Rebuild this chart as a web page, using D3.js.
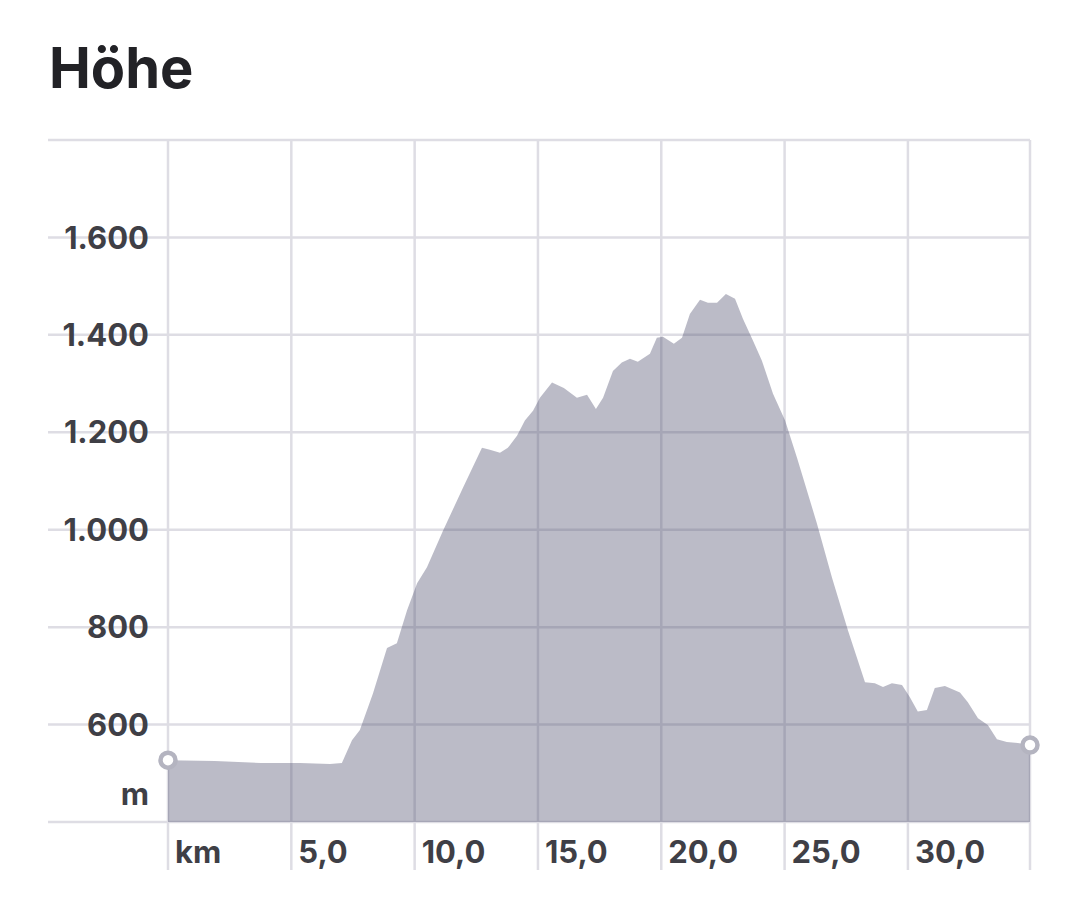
<!DOCTYPE html>
<html lang="de">
<head>
<meta charset="utf-8">
<title>Höhe</title>
<script src="https://cdn.jsdelivr.net/npm/d3@7"></script>
<style>
  body { margin: 0; background: #fff; }
  svg text { font-family: Inter, "Noto Sans", sans-serif; font-weight: 700; fill: #3f3f46; }
</style>
</head>
<body>
<div id="chart"></div>
<script>
// Höhenprofil: Distanz (km) und Höhe (m)
var distKm = [0, 1.9, 3.75, 5.35, 6.57, 7.05, 7.46, 7.78, 8.31, 8.88, 9.28, 9.69, 10.1, 10.5,
  11.15, 11.96, 12.73, 13.05, 13.46, 13.78, 14.15, 14.47, 14.8, 15.08, 15.57, 16.05, 16.58,
  16.99, 17.35, 17.64, 18.04, 18.4, 18.73, 19.05, 19.54, 19.82, 20.07, 20.51, 20.84, 21.16,
  21.57, 21.89, 22.26, 22.62, 22.99, 23.31, 23.72, 24.08, 24.53, 25.02, 25.5, 26.31, 26.92,
  27.57, 28.26, 28.66, 28.99, 29.35, 29.76, 30.08, 30.4, 30.77, 31.09, 31.5, 32.11, 32.43,
  32.84, 33.24, 33.61, 34.01, 34.46, 34.95];
var hoeheM = [527, 525, 521, 521, 519, 521, 568, 589, 664, 757, 767, 834, 890, 923,
  998, 1086, 1168, 1164, 1158, 1168, 1193, 1224, 1244, 1271, 1302, 1291, 1271,
  1277, 1248, 1271, 1326, 1343, 1351, 1345, 1361, 1394, 1396, 1382, 1394, 1443,
  1472, 1466, 1466, 1484, 1474, 1433, 1388, 1347, 1279, 1224, 1148, 1013, 902,
  793, 687, 685, 677, 685, 681, 656, 627, 630, 675, 679, 666, 646,
  613, 599, 570, 564, 562, 558];
var yTicks = [600, 800, 1000, 1200, 1400, 1600];
var xTicks = [0, 5, 10, 15, 20, 25, 30];

var width = 1080, height = 916;
var gridLeft = 48, plotLeft = 168, plotRight = 1030, plotTop = 140, plotBottom = 822;

var de = d3.formatLocale({decimal: ",", thousands: ".", grouping: [3], currency: ["", " €"]});
var fmtY = de.format(",d");
var fmtX = de.format(",.1f");

var svg = d3.select("#chart").append("svg")
    .attr("width", width)
    .attr("height", height);

var x = d3.scaleLinear().domain([0, 34.95]).range([plotLeft, plotRight]);
var y = d3.scaleLinear().domain([400, 1800]).range([plotBottom, plotTop]);

svg.append("text")
    .attr("x", 49).attr("y", 88)
    .style("font-size", "56px")
    .style("fill", "#222226")
    .text("Höhe");

var grid = svg.append("g").attr("stroke", "#dedde4");

// horizontale Linien
grid.selectAll("line.h")
    .data([1800].concat(yTicks).concat([400]))
    .join("line")
    .attr("class", "h")
    .attr("stroke-width", 2.5)
    .attr("x1", gridLeft).attr("x2", plotRight)
    .attr("y1", d => y(d)).attr("y2", d => y(d));

// vertikale Linien
grid.selectAll("line.v")
    .data(xTicks.concat([34.95]))
    .join("line")
    .attr("class", "v")
    .attr("stroke-width", 2.5)
    .attr("x1", d => x(d)).attr("x2", d => x(d))
    .attr("y1", plotTop).attr("y2", 870);

// Fläche
var data = distKm.map((d, i) => ({km: d, m: hoeheM[i]}));
var area = d3.area()
    .x(d => x(d.km))
    .y0(y(400))
    .y1(d => y(d.m));

svg.append("path")
    .datum(data)
    .attr("d", area)
    .attr("fill", "rgba(76,76,108,0.38)");

// Y-Beschriftung
svg.selectAll("text.ylab")
    .data(yTicks)
    .join("text")
    .attr("class", "ylab")
    .attr("x", 149)
    .attr("y", d => y(d))
    .attr("dy", "0.36em")
    .attr("text-anchor", "end")
    .style("font-size", "31px")
    .text(d => fmtY(d));

svg.append("text")
    .attr("x", 149).attr("y", 805)
    .attr("text-anchor", "end")
    .style("font-size", "31px")
    .text("m");

// X-Beschriftung
svg.selectAll("text.xlab")
    .data(xTicks)
    .join("text")
    .attr("class", "xlab")
    .attr("x", d => x(d) + 7)
    .attr("y", 863)
    .style("font-size", "31px")
    .text(d => d === 0 ? "km" : fmtX(d));

// Start- und Endpunkt
svg.selectAll("circle.end")
    .data([data[0], data[data.length - 1]])
    .join("circle")
    .attr("class", "end")
    .attr("cx", d => x(d.km))
    .attr("cy", d => y(d.m))
    .attr("r", 7.5)
    .attr("fill", "#fff")
    .attr("stroke", "#b4b4c0")
    .attr("stroke-width", 4.5);
</script>
</body>
</html>
